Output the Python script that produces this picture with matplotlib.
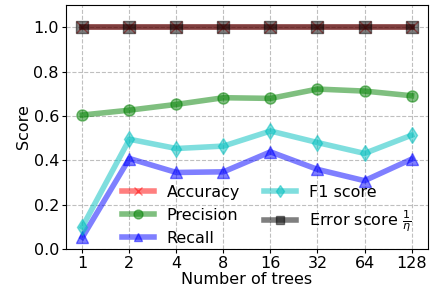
import numpy as np
import matplotlib.pyplot as plt

trees = ['1', '2', '4', '8', '16', '32', '64', '128']
accuracy = [1.0, 1.0, 1.0, 1.0, 1.0, 1.0, 1.0, 1.0]
precision = [0.604, 0.626, 0.652, 0.682, 0.679, 0.721, 0.712, 0.691]
recall = [0.053, 0.408, 0.345, 0.348, 0.438, 0.359, 0.308, 0.405]
f1 = [0.100, 0.495, 0.453, 0.464, 0.532, 0.480, 0.431, 0.513]
error = [1.0, 1.0, 1.0, 1.0, 1.0, 1.0, 1.0, 1.0]

plt.rcParams['font.size'] = 11.5
fig, ax = plt.subplots(figsize=(4.31, 2.94), dpi=100)
x = np.arange(len(trees))
kw = dict(alpha=0.5, linewidth=4, markersize=8)
ax.plot(x, accuracy, color='r', marker='x', label='Accuracy', **kw)
ax.plot(x, precision, color='g', marker='o', label='Precision', **kw)
ax.plot(x, recall, color='b', marker='^', label='Recall', **kw)
ax.plot(x, f1, color='c', marker='d', label='F1 score', **kw)
ax.plot(x, error, color='k', marker='s', label=r'Error score $\frac{1}{\eta}$', **kw)

ax.set_xticks(x)
ax.set_xticklabels(trees)
ax.set_ylim(0, 1.1)
ax.tick_params(length=3, pad=2)
ax.grid(linestyle='--', alpha=0.8)
ax.set_xlabel('Number of trees', labelpad=1)
ax.set_ylabel('Score', labelpad=2)
ax.legend(ncol=2, loc='lower right', bbox_to_anchor=(0.975, -0.02), frameon=False,
          labelspacing=0.5, columnspacing=1.5, borderaxespad=0.1, markerscale=0.8)
fig.subplots_adjust(left=0.153, right=0.993, top=0.983, bottom=0.153)
fig.savefig('out.png', dpi=100)
